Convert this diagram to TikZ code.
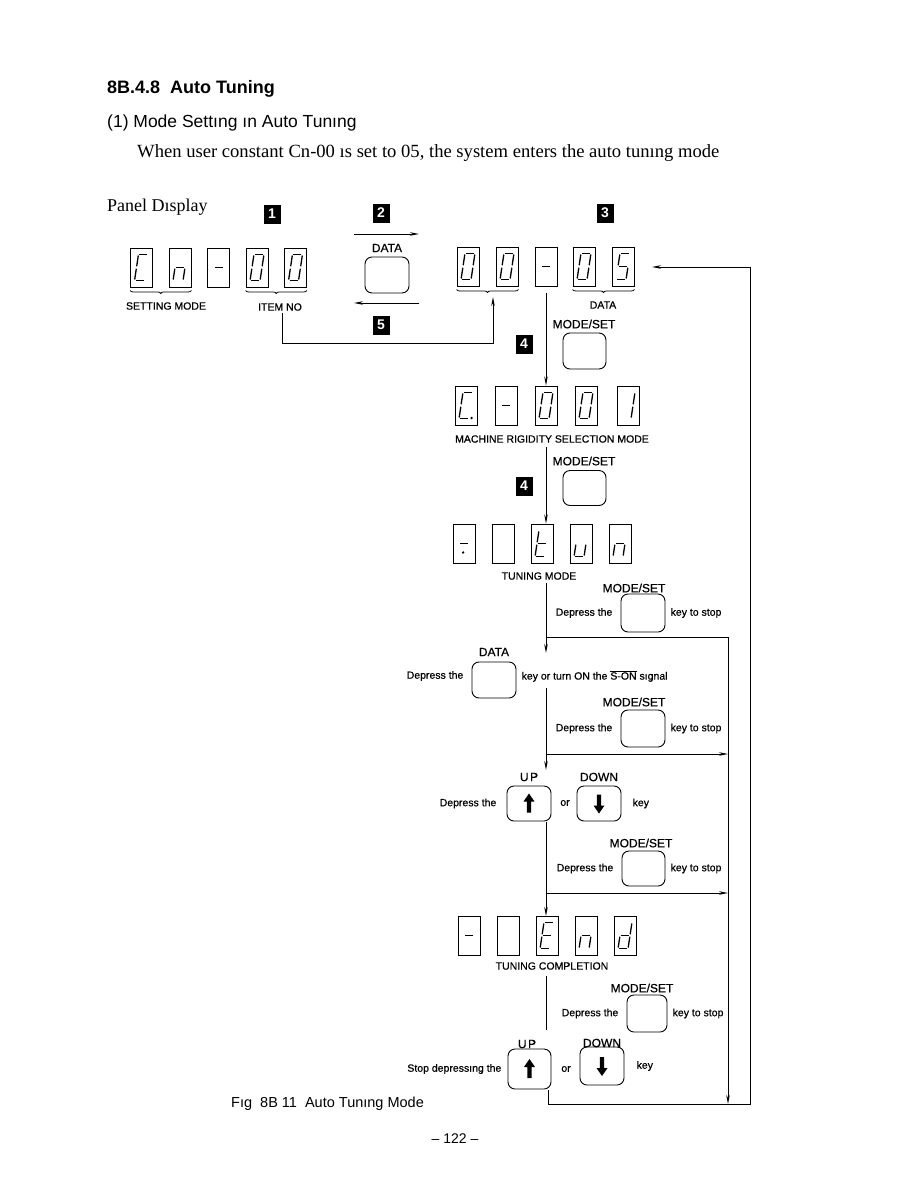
\documentclass[tikz,border=0pt]{standalone}
\usepackage{fontspec}
\setmainfont{Liberation Serif}
\setsansfont{Liberation Sans}
\newfontfamily\lblfont[FakeBold=0.6]{Liberation Sans}
\usetikzlibrary{arrows.meta,decorations.pathreplacing,calc}
\newcommand\myfs[1]{\fontsize{#1}{#1}\selectfont}
\newcommand\sgdraw[1]{%
  \if#1a\draw (-4,-13)--(4,-13);\fi
  \if#1b\draw (5,-12)--(5,-1.2);\fi
  \if#1c\draw (5,1.2)--(5,12);\fi
  \if#1d\draw (-4,13)--(4,13);\fi
  \if#1e\draw (-5,1.2)--(-5,12);\fi
  \if#1f\draw (-5,-12)--(-5,-1.2);\fi
  \if#1g\draw (-4,0)--(4,0);\fi
  \if#1p\fill (7.5,12.5) circle (1.3);\fi
  \if#1q\fill (0.5,9) circle (1.3);\fi
}
\newcommand\sevseg[2]{%
  \begin{scope}[shift={(#1.center)}, xslant=0.15, line width=1.3pt]
  \foreach \s in {#2}{\sgdraw{\s}}
  \end{scope}}
\newcommand\upglyph[1]{\fill ([yshift=10pt]#1.center) -- ++(5.5,8) -- ++(-3.3,0) -- ++(0,11) -- ++(-4.4,0) -- ++(0,-11) -- ++(-3.3,0) -- cycle;}
\newcommand\downglyph[1]{\fill ([yshift=-10pt]#1.center) -- ++(5.5,-8) -- ++(-3.3,0) -- ++(0,-11) -- ++(-4.4,0) -- ++(0,11) -- ++(-3.3,0) -- cycle;}
\begin{document}
\begin{tikzpicture}[x=1pt,y=-1pt,
  segbox/.style={draw, line width=0.9pt, minimum width=22pt, minimum height=39pt, inner sep=0pt},
  lbl/.style={font=\lblfont\myfs{10.5}, inner sep=0pt},
  keylbl/.style={font=\lblfont\myfs{12}, inner sep=0pt},
  keybox/.style={draw, rounded corners=7pt, line width=0.9pt, minimum width=44pt, minimum height=36pt, inner sep=0pt},
  marker/.style={fill=black, text=white, font=\sffamily\bfseries\myfs{14}, minimum width=17pt, minimum height=19pt, inner sep=0pt},
  flow/.style={line width=0.9pt},
  arr/.style={flow, -{Stealth[length=9pt,width=3.5pt]}},
  ubrace/.style={decorate, decoration={brace, amplitude=3pt, mirror}, line width=0.8pt}]
\fill[white] (0,0) rectangle (916,1181);
\useasboundingbox (0,0) rectangle (916,1181);

% headings
\node[anchor=base west, font=\sffamily\bfseries\myfs{18}, inner sep=0pt] (title) at (107,93) {8B.4.8\ \ Auto Tuning};
\node[anchor=base west, font=\sffamily\myfs{17.5}, inner sep=0pt] (sub) at (107,127) {(1)\ Mode Settıng ın Auto Tunıng};
\node[anchor=base west, font=\rmfamily\myfs{18.6}, inner sep=0pt] (body) at (137,157) {When user constant Cn-00 ıs set to 05, the system enters the auto tunıng mode};
\node[anchor=base west, font=\rmfamily\myfs{18}, inner sep=0pt] (panel) at (107,211) {Panel Dısplay};

% markers
\node[marker] (m1) at (272,214) {1};
\node[marker] (m2) at (381,213) {2};
\node[marker] (m3) at (605,213) {3};
\node[marker] (m5) at (381,325) {5};
\node[marker] (m4a) at (524,344) {4};
\node[marker] (m4b) at (524,486) {4};

% row 1
\node[segbox] (r1a) at (141.5,267.5) {}; \sevseg{r1a}{a,f,e,d}
\node[segbox] (r1b) at (180,267.5) {}; \sevseg{r1b}{g,e,c}
\node[segbox] (r1c) at (218.5,267.5) {}; \sevseg{r1c}{g}
\node[segbox] (r1d) at (257,267.5) {}; \sevseg{r1d}{a,b,c,d,e,f}
\node[segbox] (r1e) at (295.5,267.5) {}; \sevseg{r1e}{a,b,c,d,e,f}
\draw[ubrace] (r1a.south west) ++(0,3) -- ([yshift=-3pt]r1b.south east);
\draw[ubrace] (r1d.south west) ++(0,3) -- ([yshift=-3pt]r1e.south east);
\node[lbl] (setmode) at (166,306) {SETTING MODE};
\node[lbl] (itemno) at (280,307) {ITEM NO};

% DATA key (top)
\node[keylbl] (datal1) at (387,248) {DATA};
\node[keybox] (kdata1) at (387,275) {};
\coordinate (da1) at (354,234); \coordinate (da2) at (419,234);
\coordinate (db1) at (419,303); \coordinate (db2) at (354,303);
\draw[arr] (da1) -- (da2);
\draw[arr] (db1) -- (db2);

% row 2
\node[segbox] (r2a) at (468,266.5) {}; \sevseg{r2a}{a,b,c,d,e,f}
\node[segbox] (r2b) at (507,266.5) {}; \sevseg{r2b}{a,b,c,d,e,f}
\node[segbox] (r2c) at (546,266.5) {}; \sevseg{r2c}{g}
\node[segbox] (r2d) at (584,266.5) {}; \sevseg{r2d}{a,b,c,d,e,f}
\node[segbox] (r2e) at (623,266.5) {}; \sevseg{r2e}{a,f,g,c,d}
\draw[ubrace] (r2a.south west) ++(0,3) -- ([yshift=-3pt]r2b.south east);
\draw[ubrace] (r2d.south west) ++(0,3) -- ([yshift=-3pt]r2e.south east);
\node[lbl] (datal2) at (603,305) {DATA};

% loop 5
\coordinate (l5a) at (282,313);
\coordinate (l5b) at (493,297);
\draw[arr] (l5a) -- ++(0,30) -| (l5b);

% MODE/SET key 1
\node[keylbl] (msl1) at (584,324) {MODE/SET};
\node[keybox, minimum width=43pt] (kms1) at (584.5,351) {};

% row 3
\node[segbox] (r3a) at (466,405.5) {}; \sevseg{r3a}{a,f,e,d,p}
\node[segbox] (r3b) at (506,405.5) {}; \sevseg{r3b}{g}
\node[segbox] (r3c) at (546,405.5) {}; \sevseg{r3c}{a,b,c,d,e,f}
\node[segbox] (r3d) at (586,405.5) {}; \sevseg{r3d}{a,b,c,d,e,f}
\node[segbox] (r3e) at (628,405.5) {}; \sevseg{r3e}{b,c}
\node[lbl] (mrsm) at (552,439) {MACHINE RIGIDITY SELECTION MODE};
\draw[arr] ([yshift=-7pt]r2c.south) -- (r3c.north);

% MODE/SET key 2
\node[keylbl] (msl2) at (584,461) {MODE/SET};
\node[keybox, minimum width=43pt, minimum height=35pt] (kms2) at (584.5,488) {};

% row 4
\node[segbox] (r4a) at (464,543.5) {}; \sevseg{r4a}{g,q}
\node[segbox] (r4b) at (503,543.5) {};
\node[segbox] (r4c) at (542,543.5) {}; \sevseg{r4c}{f,e,d,g}
\node[segbox] (r4d) at (581,543.5) {}; \sevseg{r4d}{e,d,c}
\node[segbox] (r4e) at (620,543.5) {}; \sevseg{r4e}{g,e,c}
\coordinate (t3a) at (546,447);
\draw[arr] (t3a) -- (r4c.north -| t3a);
\node[lbl] (tunmode) at (539,576) {TUNING MODE};

% main flow
\coordinate (f0) at (546,583);
\coordinate (j1) at (546,637);
\coordinate (f1) at (546,653);
\coordinate (f2) at (546,688);
\coordinate (j2) at (546,754);
\coordinate (f3) at (546,770);
\coordinate (f4) at (546,822);
\coordinate (j3) at (546,893);
\coordinate (f5) at (546,916);
\coordinate (f6) at (546,976);
\coordinate (f7) at (546,1030);
\coordinate (f8) at (548,1090);
\coordinate (bl) at (548,1104);
\coordinate (rx) at (728,1104);
\coordinate (ry) at (728,637);
\coordinate (ob) at (750,1104);
\coordinate (ot) at (750,267);
\coordinate (oe) at (652,267);
\draw[arr] (f0) -- (f1);
\draw[flow] (j1) -- (ry);
\draw[arr] (ry) -- (rx);
\draw[arr] (f2) -- (f3);
\draw[arr] (j2) -- (j2 -| ry);
\draw[arr] (f4) -- (f5);
\draw[arr] (j3) -- (j3 -| ry);
\draw[flow] (f6) -- (f7);
\draw[arr] (f8) -- (bl) -- (ob) -- (ot) -- (oe);

% key 3
\node[keylbl] (msl3) at (634,588) {MODE/SET};
\node[keybox, minimum height=38pt] (kms3) at (643,613) {};
\node[lbl, anchor=east] (dp3) at ([xshift=-8pt]kms3.west) {Depress the};
\node[lbl, anchor=west] (ks3) at ([xshift=5pt]kms3.east) {key to stop};

% DATA key 2
\node[keylbl] (datal3) at (494,652) {DATA};
\node[keybox] (kdata2) at (494,680) {};
\node[lbl, anchor=east] (dp4) at ([xshift=-8pt,yshift=4pt]kdata2.west) {Depress the};
\node[lbl, anchor=west] (son) at ([xshift=5pt,yshift=4pt]kdata2.east) {key or turn ON the $\overline{\mbox{S-ON}}$ sıgnal};

% key 4
\node[keylbl] (msl4) at (634,702) {MODE/SET};
\node[keybox, minimum height=37pt] (kms4) at (643,728.5) {};
\node[lbl, anchor=east] (dp5) at ([xshift=-8pt]kms4.west) {Depress the};
\node[lbl, anchor=west] (ks4) at ([xshift=5pt]kms4.east) {key to stop};

% UP / DOWN 1
\node[keylbl] (upl1) at (529,777) {U\kern1.5pt P};
\node[keylbl] (dnl1) at (599,777) {DOWN};
\node[keybox, minimum height=35pt] (kup1) at (529,803.5) {}; \upglyph{kup1}
\node[keybox, minimum height=35pt] (kdn1) at (599,803.5) {}; \downglyph{kdn1}
\node[lbl, anchor=east] (dp6) at ([xshift=-10pt]kup1.west) {Depress the};
\node[lbl] (or1) at (565,803) {or};
\node[lbl, anchor=west] (key1) at ([xshift=11pt]kdn1.east) {key};

% key 5
\node[keylbl] (msl5) at (641,843) {MODE/SET};
\node[keybox, minimum width=43pt, minimum height=35pt] (kms5) at (643.5,868.5) {};
\node[lbl, anchor=east] (dp7) at ([xshift=-8pt]kms5.west) {Depress the};
\node[lbl, anchor=west] (ks5) at ([xshift=5pt]kms5.east) {key to stop};

% row 5
\node[segbox] (r5a) at (469,935.5) {}; \sevseg{r5a}{g}
\node[segbox] (r5b) at (508,935.5) {};
\node[segbox] (r5c) at (547,935.5) {}; \sevseg{r5c}{a,f,g,e,d}
\node[segbox] (r5d) at (586,935.5) {}; \sevseg{r5d}{g,e,c}
\node[segbox] (r5e) at (625,935.5) {}; \sevseg{r5e}{b,c,d,e,g}
\node[lbl] (tcomp) at (552,966) {TUNING COMPLETION};

% key 6
\node[keylbl] (msl6) at (642,988) {MODE/SET};
\node[keybox, minimum width=40pt, minimum height=37pt] (kms6) at (647,1013.5) {};
\node[lbl, anchor=east] (dp8) at ([xshift=-8pt]kms6.west) {Depress the};
\node[lbl, anchor=west] (ks6) at ([xshift=5pt]kms6.east) {key to stop};

% UP / DOWN 2
\node[keylbl] (upl2) at (527,1044) {U\kern1.5pt P};
\node[keylbl] (dnl2) at (602,1043) {DOWN};
\node[keybox, minimum width=43pt, minimum height=40pt] (kup2) at (529.5,1069) {}; \upglyph{kup2}
\node[keybox, minimum width=44pt, minimum height=38pt] (kdn2) at (602,1066) {}; \downglyph{kdn2}
\node[lbl, anchor=east] (dp9) at ([xshift=-6pt]kup2.west) {Stop depressıng the};
\node[lbl] (or2) at (566,1069) {or};
\node[lbl, anchor=west] (key2) at ([xshift=12pt]kdn2.east) {key};

% caption and page
\node[anchor=base west, font=\sffamily\myfs{14.5}, inner sep=0pt] (cap) at (231,1107) {Fıg\ \ 8B 11\ \ Auto Tunıng Mode};
\node[anchor=base, font=\sffamily\myfs{14}, inner sep=0pt] (page) at (455,1143) {– 122 –};
\end{tikzpicture}
\end{document}
